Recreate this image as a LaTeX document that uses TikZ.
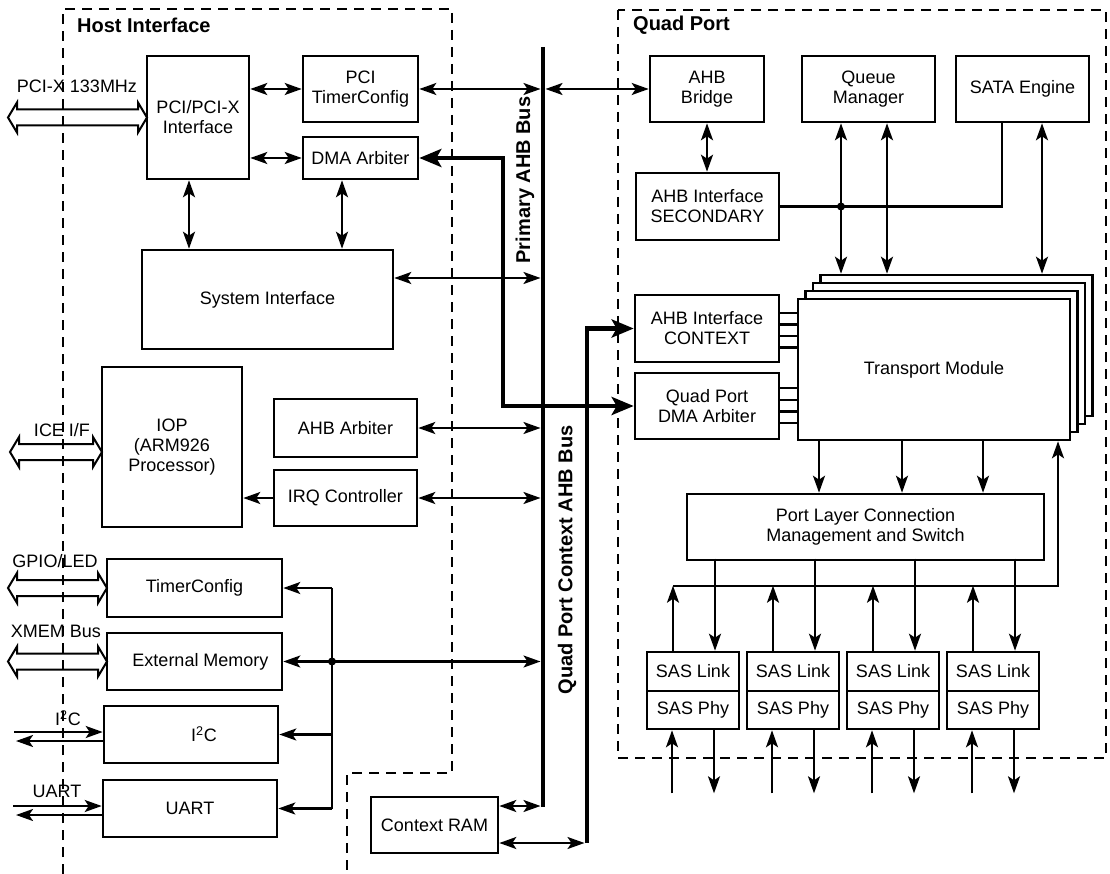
\documentclass[tikz,border=0pt]{standalone}
\usepackage{fontspec}
\setmainfont{Liberation Sans}
\usetikzlibrary{arrows.meta,calc}
\newcommand{\hollowdbl}[3]{\draw[line width=2pt, line join=miter] (#1,#3) -- ({#1+9},{#3-15}) -- ({#1+9},{#3-8}) -- ({#2-9},{#3-8}) -- ({#2-9},{#3-15}) -- (#2,#3) -- ({#2-9},{#3+15}) -- ({#2-9},{#3+8}) -- ({#1+9},{#3+8}) -- ({#1+9},{#3+15}) -- cycle;}
\begin{document}
\begin{tikzpicture}[x=1pt,y=-1pt,
  >={Stealth[length=17pt,width=12pt,inset=4pt]},
  box/.style={draw, line width=2.6pt, fill=white, inner sep=0pt, align=center, font=\fontsize{18}{20}\selectfont},
  conn/.style={line width=2.2pt},
  bus/.style={line width=4.8pt, line join=miter},
  thk/.style={line width=4.5pt, line join=miter, >={Stealth[length=22pt,width=18pt,inset=5pt]}},
  dsh/.style={dash pattern=on 10pt off 7pt, line width=1.8pt},
  lbl/.style={inner sep=0pt, font=\fontsize{18}{20}\selectfont},
  ttl/.style={inner sep=0pt, font=\bfseries\fontsize{20}{22}\selectfont}]
\useasboundingbox (0,0) rectangle (1110,874);

% dashed regions
\draw[dsh] (63,874) -- (63,9) -- (452,9) -- (452,773) -- (347,773) -- (347,874);
\draw[dsh] (618,10) rectangle (1106,758);
\node[ttl, anchor=west] (hostlbl) at (77,25) {Host Interface};
\node[ttl, anchor=west] (quadlbl) at (633,25) {Quad Port};

% host boxes
\node[box, minimum width=102pt, minimum height=123pt] (pci) at (198,117.5) {PCI/PCI-X\\Interface};
\node[box, minimum width=115pt, minimum height=66pt] (ptc) at (360.5,89) {PCI\\TimerConfig};
\node[box, minimum width=115pt, minimum height=42pt] (dma) at (360.5,158) {DMA Arbiter};
\node[box, minimum width=251pt, minimum height=99pt] (sys) at (267.5,299.5) {System Interface};
\node[box, minimum width=140pt, minimum height=160pt] (iop) at (172,447) {IOP\\(ARM926\\Processor)};
\node[box, minimum width=143pt, minimum height=58pt] (ahbarb) at (345.5,428) {AHB Arbiter};
\node[box, minimum width=143pt, minimum height=56pt] (irq) at (345.5,498) {IRQ Controller};
\node[box, minimum width=175pt, minimum height=58pt] (tcfg) at (194.5,588) {TimerConfig};
\node[box, minimum width=175pt, minimum height=57pt] (extmem) at (194.5,661.5) {\hspace*{12pt}External Memory};
\node[box, minimum width=174pt, minimum height=57pt] (i2c) at (191,734.5) {\hspace*{26pt}I\textsuperscript{2}C};
\node[box, minimum width=174pt, minimum height=57pt] (uart) at (190,808.5) {UART};
\node[box, minimum width=127pt, minimum height=56pt] (cram) at (434.5,825) {Context RAM};

% quad port boxes
\node[box, minimum width=114pt, minimum height=66pt] (bridge) at (707,89) {AHB\\Bridge};
\node[box, minimum width=133pt, minimum height=66pt] (qm) at (868.5,89) {Queue\\Manager};
\node[box, minimum width=133pt, minimum height=66pt] (sata) at (1022.5,89) {SATA Engine};
\node[box, minimum width=143pt, minimum height=67pt] (sec) at (707.5,206.5) {AHB Interface\\SECONDARY};
\node[box, minimum width=144pt, minimum height=67pt] (ctx) at (707,328.5) {AHB Interface\\CONTEXT};
\node[box, minimum width=144pt, minimum height=66pt] (qpdma) at (707,406) {Quad Port\\DMA Arbiter};
\foreach \k in {3,2,1}
  \node[box, minimum width=272pt, minimum height=141pt] (tm\k) at ({934+7.4*\k},{369.5-8*\k}) {};
\node[box, minimum width=272pt, minimum height=141pt] (tm) at (934,369.5) {Transport Module};
\node[box, minimum width=357pt, minimum height=66pt] (plc) at (865.5,527) {Port Layer Connection\\Management and Switch};
\foreach \i/\c in {1/693,2/793,3/893,4/993} {
  \node[box, minimum width=92pt, minimum height=39pt] (sasl\i) at (\c,671.5) {SAS Link};
  \node[box, minimum width=92pt, minimum height=38pt] (sasp\i) at (\c,710) {SAS Phy};
}

% external hollow arrows and labels
\hollowdbl{8}{147}{117.5}
\hollowdbl{10}{102}{452}
\hollowdbl{8}{107}{588}
\hollowdbl{8}{107}{661.5}
\node[lbl] (pcixlbl) at (77,86) {PCI-X 133MHz};
\node[lbl] (icelbl) at (62,430) {ICE I/F};
\node[lbl] (gpiolbl) at (55,561) {GPIO/LED};
\node[lbl] (xmemlbl) at (56,631) {XMEM Bus};
\node[lbl] (i2clbl) at (68,718) {I\textsuperscript{2}C};
\node[lbl] (uartlbl) at (57,791) {UART};

\draw[conn,->] (14,732) -- (i2c.west |- 0,732);
\draw[conn,->] (i2c.west |- 0,741) -- (16,741);
\draw[conn,->] (13,806) -- (uart.west |- 0,806);
\draw[conn,->] (uart.west |- 0,815) -- (16,815);

% buses
\coordinate (pbT) at (543,47);
\coordinate (pbB) at (543,807);
\draw[bus] (pbT) -- (pbB);
\node[ttl, rotate=90] (pblbl) at (525,180) {Primary AHB Bus};
\node[ttl, rotate=90] (cblbl) at (567,560) {Quad Port Context AHB Bus};
\coordinate (cbB) at (587,843);
\draw[thk,->] (cbB) |- (ctx.west);
\draw[thk,<->] (dma.east) -| (503,0 |- qpdma.west) -- (qpdma.west);

% host connectors
\draw[conn,<->] (ptc.west -| pci.east) -- (ptc.west);
\draw[conn,<->] (dma.west -| pci.east) -- (dma.west);
\draw[conn,<->] (pci.south -| 189,0) -- (sys.north -| 189,0);
\draw[conn,<->] (dma.south -| 342,0) -- (sys.north -| 342,0);
\draw[conn,<->] (ptc.east) -- (540.5,0 |- ptc.east);
\draw[conn,<->] (545.5,0 |- bridge.west) -- (bridge.west);
\draw[conn,<->] (sys.east |- 0,278) -- (540.5,278);
\draw[conn,<->] (ahbarb.east) -- (540.5,0 |- ahbarb.east);
\draw[conn,<->] (irq.east) -- (540.5,0 |- irq.east);
\draw[conn,->] (irq.west) -- (irq.west -| iop.east);
\draw[conn] (332,0 |- tcfg.east) -- (332,0 |- uart.east);
\draw[conn,->] (332,0 |- tcfg.east) -- (tcfg.east);
\draw[conn,->] (332,0 |- extmem.east) -- (extmem.east);
\draw[conn,->] (332,0 |- i2c.east) -- (i2c.east);
\draw[conn,->] (332,0 |- uart.east) -- (uart.east);
\draw[conn,->] (332,0 |- extmem.east) -- (540.5,0 |- extmem.east);
\fill (332,0 |- extmem.east) circle (4pt);
\draw[conn,<->] (cram.east |- 0,806) -- (540.5,806);
\draw[conn,<->] (cram.east |- 0,843) -- (584.5,843);

% quad port connectors
\draw[conn,<->] (bridge.south) -- (bridge.south |- sec.north);
\draw[conn] (sec.east) -| (1002,0 |- sata.south);
\draw[conn,<->] (841,0 |- qm.south) -- (841,0 |- tm3.north);
\draw[conn,<->] (887,0 |- qm.south) -- (887,0 |- tm3.north);
\draw[conn,<->] (1042,0 |- sata.south) -- (1042,0 |- tm3.north);
\fill (841,0 |- sec.east) circle (4pt);
\foreach \d in {-15.5,-4,7.5,19}
  \draw[line width=2.4pt] ($(ctx.east)+(0,\d)$) -- ($(tm.west |- ctx.east)+(0,\d)$);
\foreach \d in {-18,-6,5.5,17}
  \draw[line width=2.4pt] ($(qpdma.east)+(0,\d)$) -- ($(tm.west |- qpdma.east)+(0,\d)$);
\foreach \x in {819,902,983}
  \draw[conn,->] (tm.south -| \x,0) -- (plc.north -| \x,0);
\draw[conn,->] ($(sasl1.north)+(-20,-65)$) -| (tm.south -| 1058,0);
\foreach \i in {1,2,3,4} {
  \draw[conn,->] ($(sasl\i.north)+(-20,0)$) -- ($(sasl\i.north)+(-20,-65)$);
  \draw[conn,->] ($(sasl\i.north)+(22,-92)$) -- ($(sasl\i.north)+(22,0)$);
  \draw[conn,->] ($(sasp\i.south)+(-21,63)$) -- ($(sasp\i.south)+(-21,0)$);
  \draw[conn,->] ($(sasp\i.south)+(21,0)$) -- ($(sasp\i.south)+(21,63)$);
}
\end{tikzpicture}
\end{document}
